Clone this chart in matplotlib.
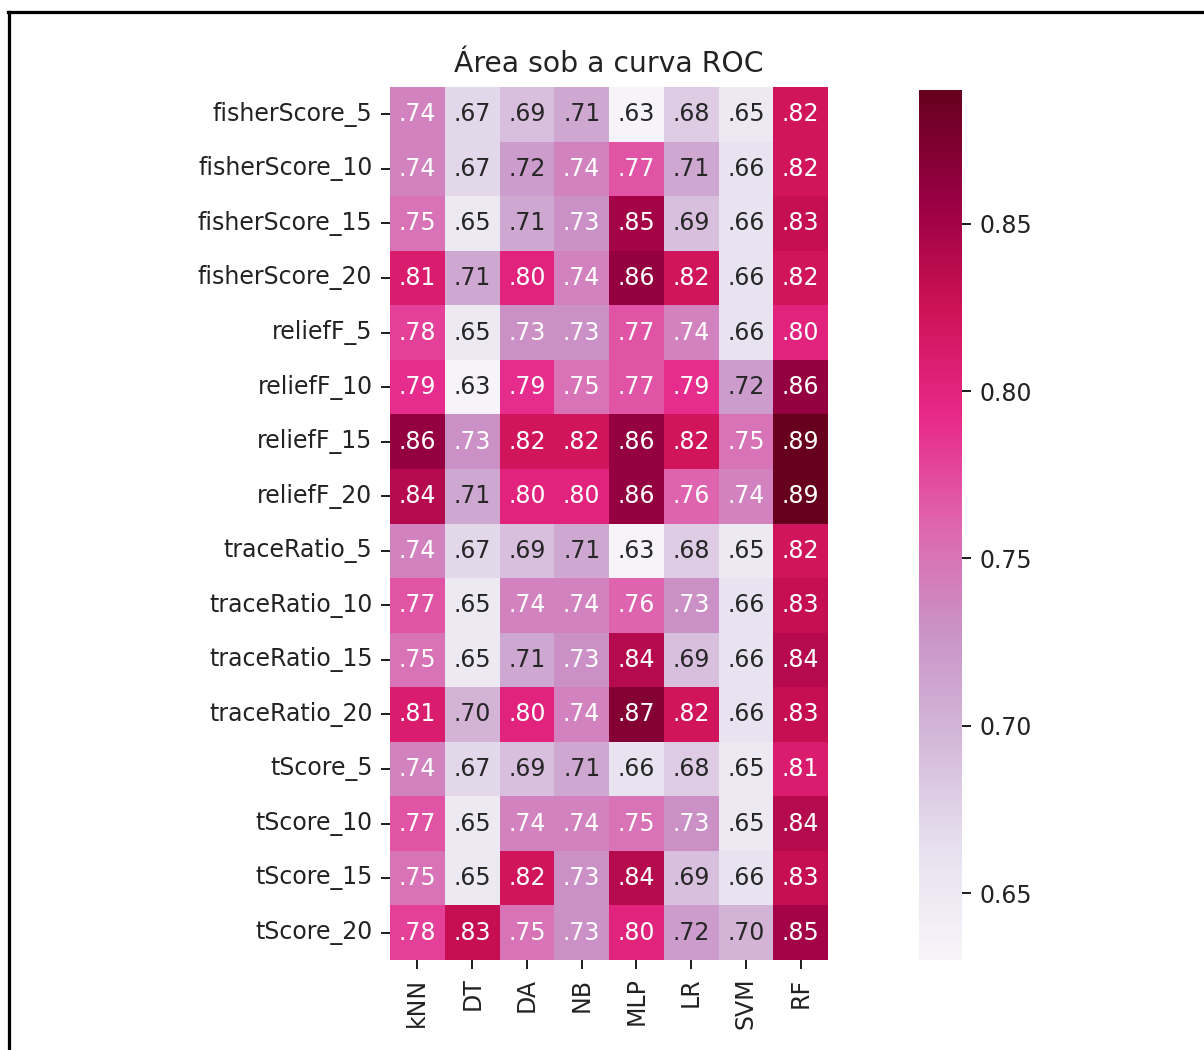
import numpy as np
import matplotlib
matplotlib.use("Agg")
import matplotlib.pyplot as plt
import seaborn as sns
from matplotlib.lines import Line2D

models = ["kNN", "DT", "DA", "NB", "MLP", "LR", "SVM", "RF"]
feature_sets = ["fisherScore_5", "fisherScore_10", "fisherScore_15", "fisherScore_20",
                "reliefF_5", "reliefF_10", "reliefF_15", "reliefF_20",
                "traceRatio_5", "traceRatio_10", "traceRatio_15", "traceRatio_20",
                "tScore_5", "tScore_10", "tScore_15", "tScore_20"]

fisher_score = [
    [.74, .67, .69, .71, .63, .68, .65, .82],
    [.74, .67, .72, .74, .77, .71, .66, .82],
    [.75, .65, .71, .73, .85, .69, .66, .83],
    [.81, .71, .80, .74, .86, .82, .66, .82],
]
relief_f = [
    [.78, .65, .73, .73, .77, .74, .66, .80],
    [.79, .63, .79, .75, .77, .79, .72, .86],
    [.86, .73, .82, .82, .86, .82, .75, .89],
    [.84, .71, .80, .80, .86, .76, .74, .89],
]
trace_ratio = [
    [.74, .67, .69, .71, .63, .68, .65, .82],
    [.77, .65, .74, .74, .76, .73, .66, .83],
    [.75, .65, .71, .73, .84, .69, .66, .84],
    [.81, .70, .80, .74, .87, .82, .66, .83],
]
t_score = [
    [.74, .67, .69, .71, .66, .68, .65, .81],
    [.77, .65, .74, .74, .75, .73, .65, .84],
    [.75, .65, .82, .73, .84, .69, .66, .83],
    [.78, .83, .75, .73, .80, .72, .70, .85],
]

auc = np.array(fisher_score + relief_f + trace_ratio + t_score)
# labels like ".74" (leading zero dropped)
labels = np.array([[("%.2f" % v)[1:] for v in row] for row in auc])

plt.rcParams["font.size"] = 9.45
plt.rcParams["text.color"] = "#222222"
plt.rcParams["xtick.color"] = "#222222"
plt.rcParams["ytick.color"] = "#222222"

fig = plt.figure(figsize=(1204 / 180, 1050 / 180), dpi=180)
ax = fig.add_axes([390 / 1204, 1 - 960 / 1050, 438 / 1204, 873 / 1050])
cax = fig.add_axes([919 / 1204, 1 - 960 / 1050, 43 / 1204, 870 / 1050])

sns.heatmap(auc, ax=ax, cbar_ax=cax, cmap="PuRd", annot=labels, fmt="",
            xticklabels=models, yticklabels=feature_sets)
ax.set_title("Área sob a curva ROC", fontsize=11.3)
ax.tick_params(axis="x", rotation=90)
ax.tick_params(axis="y", rotation=0)

# frame from the screenshot
fig.add_artist(Line2D([9 / 1204, 9 / 1204], [0, 1 - 12 / 1050],
                      transform=fig.transFigure, color="black", lw=1.3))
fig.add_artist(Line2D([8 / 1204, 1], [1 - 12 / 1050, 1 - 12 / 1050],
                      transform=fig.transFigure, color="black", lw=1.3))

fig.savefig("out.png", dpi=180)
